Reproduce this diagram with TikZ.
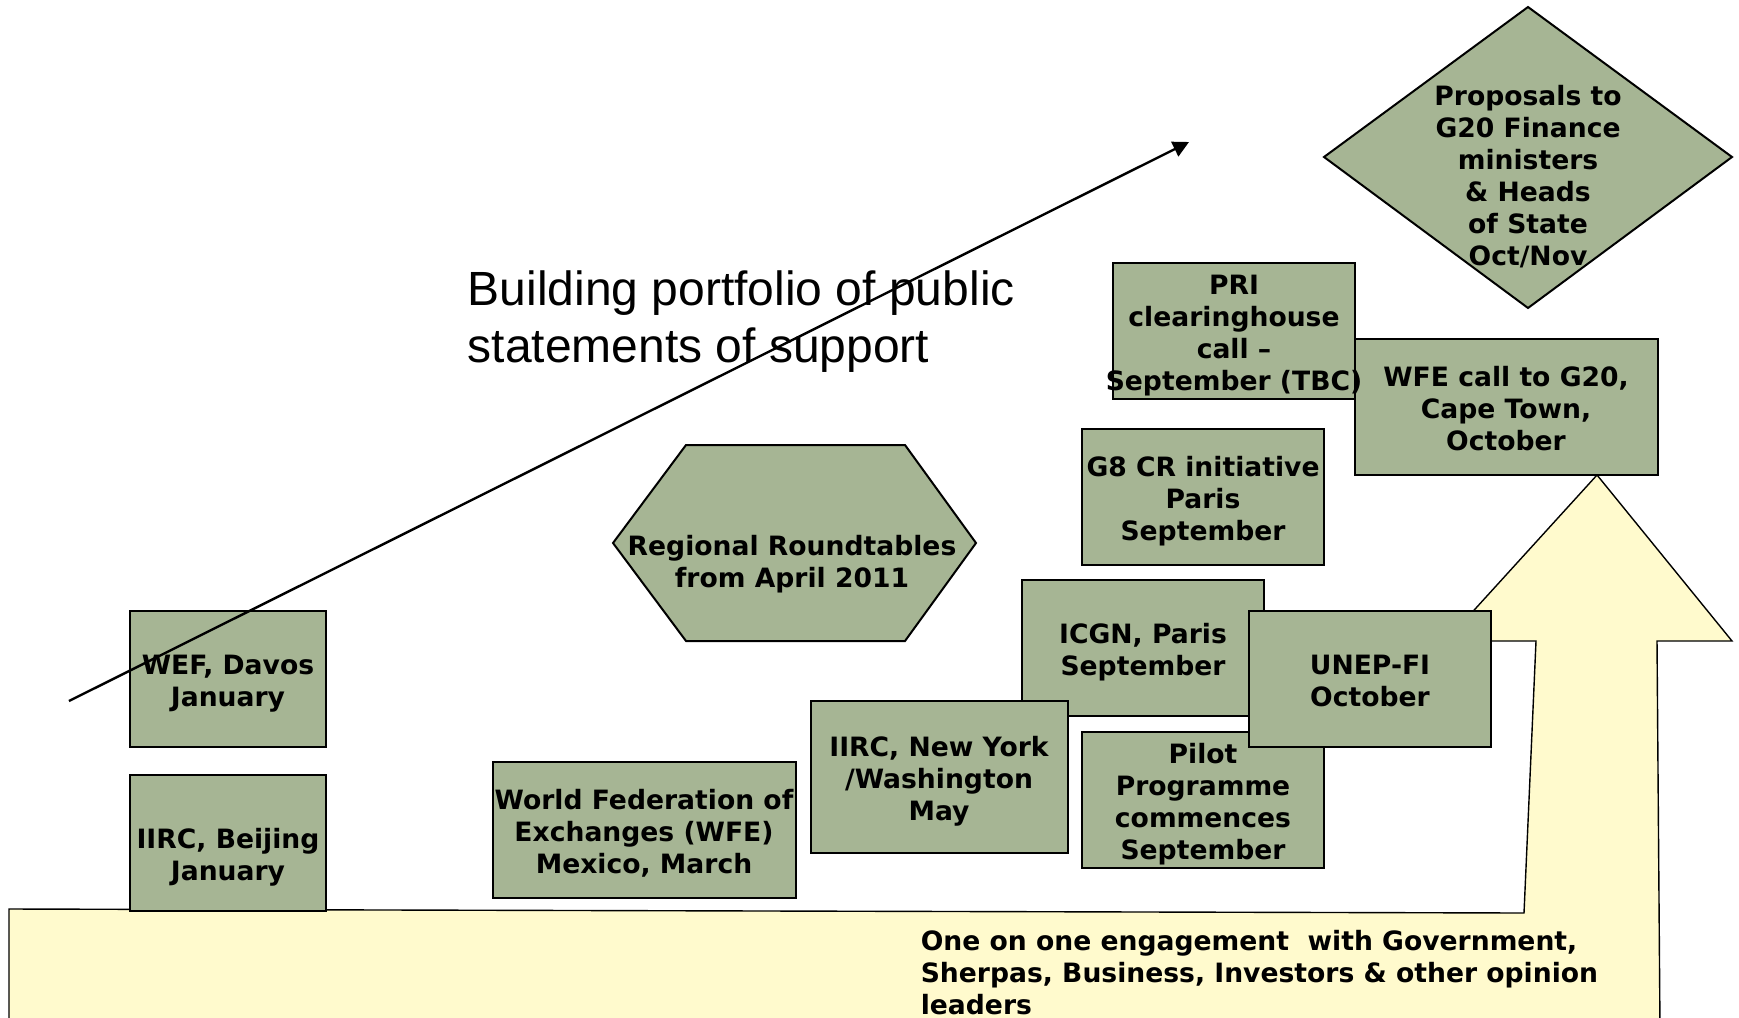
\documentclass[tikz,border=0pt]{standalone}
\usepackage{fontspec}
\setmainfont{DejaVu Sans}
\newfontfamily\arialfont{Liberation Sans}
\usepackage{tikz}
\usetikzlibrary{arrows.meta}
\definecolor{boxgreen}{RGB}{166,181,148}
\definecolor{shaftyellow}{RGB}{255,250,205}
\newcommand{\evt}[2][2.5pt]{\makebox[0pt]{\raisebox{-#1}[\height][\depth]{\begin{tabular}{@{}c@{}}#2\end{tabular}}}}

\begin{document}
\begin{tikzpicture}[x=0.5pt, y=-0.5pt, thick,
    fillgreen/.style = {draw, fill=boxgreen, line width=1pt},
    txt/.style = {inner sep=0pt, font=\fontsize{13.3}{16}\selectfont\bfseries},
    main/.style = {fillgreen, txt, minimum width=121pt, minimum height=68pt},
    wide/.style = {main, minimum width=151.5pt},
    narrow/.style = {main, minimum width=98pt}]
    \clip (0,0) rectangle (1739,1017);
    % yellow arrow along the bottom
    \draw[fill=shaftyellow, line width=0.7pt] (9,1030) -- (9,909) -- (1524,913) -- (1536,641) -- (1446,641)
        -- (1597,475) -- (1732,641) -- (1657,641) -- (1660,1030) -- cycle;
    \node[wide]   (1)  at (1506,407) {\evt{WFE call to G20,\\Cape Town,\\October}};
    \node[main]   (2)  at (1234,331) {\evt{PRI\\clearinghouse\\call –\\September (TBC)}};
    \node[main]   (3)  at (1203,497) {\evt{G8 CR initiative\\Paris\\September}};
    \node[main]   (4)  at (1143,648) {\evt{ICGN, Paris\\September}};
    \node[main, minimum width=128.5pt, minimum height=76pt]
                  (5)  at (939,777)  {\evt{IIRC, New York\\/Washington\\May}};
    \node[main]   (6)  at (1203,800) {\evt{Pilot\\Programme\\commences\\September}};
    \node[main]   (7)  at (1370,679) {\evt{UNEP-FI\\October}};
    \node[wide]   (8)  at (644,830)  {\evt{World Federation of\\Exchanges (WFE)\\Mexico, March}};
    \node[narrow] (9)  at (228,843)  {\evt[7.5pt]{IIRC, Beijing\\January}};
    \node[narrow] (10) at (228,679)  {\evt{WEF, Davos\\January}};
    % diamond and hexagon
    \draw[fillgreen] (1528,7) -- (1732,157) -- (1528,308) -- (1324,157) -- cycle;
    \node[txt] (11) at (1528,174) {\evt{Proposals to\\G20 Finance\\ministers\\\& Heads\\of State\\Oct/Nov}};
    \draw[fillgreen] (613,543) -- (686,445) -- (905,445) -- (976,543) -- (905,641) -- (686,641) -- cycle;
    \node[txt] (12) at (792,560) {\evt{Regional Roundtables\\from April 2011}};
    \node[anchor=north west, inner sep=0pt, align=left, font=\arialfont\fontsize{24}{28.5}\selectfont]
        (13) at (467,270) {Building portfolio of public\\statements of support};
    \node[txt, anchor=north west, align=left]
        (14) at (920,929) {One on one engagement\ \ with Government,\\Sherpas, Business, Investors \& other opinion\\leaders};
    \coordinate (s) at (69,701);
    \coordinate (e) at (1189,142);
    \draw[line width=1.2pt, -{Triangle[length=8pt, width=8pt]}] (s) -- (e);
\end{tikzpicture}
\end{document}
